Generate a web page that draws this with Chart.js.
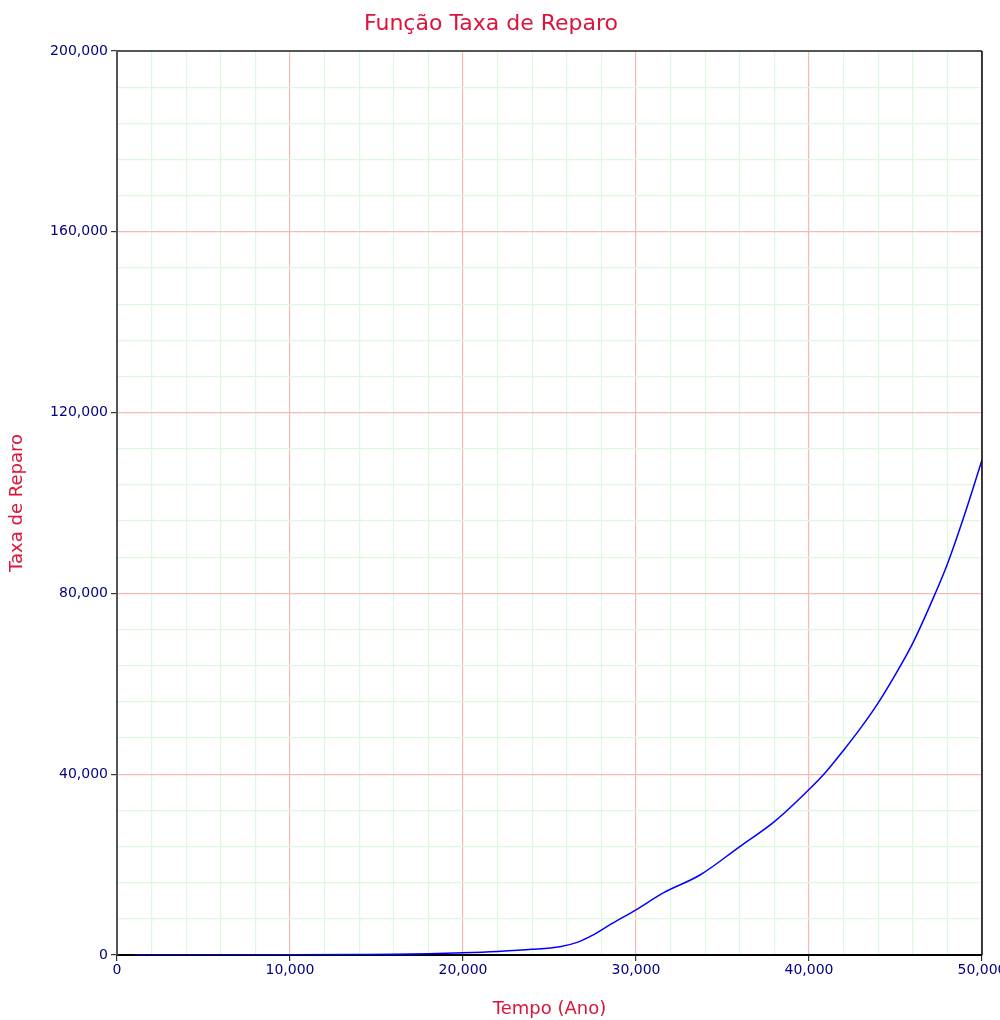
<!DOCTYPE html>
<html>
<head>
<meta charset="utf-8">
<script src="https://cdn.jsdelivr.net/npm/chart.js@4.4.1/dist/chart.umd.min.js"></script>
<style>
  html, body { margin: 0; padding: 0; background: #fff; }
  #wrap { width: 1000px; height: 1020px; position: relative; }
</style>
</head>
<body>
<div id="wrap"><canvas id="c" width="1000" height="1020"></canvas></div>
<script>
const chartTitle = 'Função Taxa de Reparo';
const xTitle = 'Tempo (Ano)';
const yTitle = 'Taxa de Reparo';

const tempo = [1000, 5000, 10000, 14000, 16000, 18000, 20000, 22000, 24000, 25600, 26600, 27500, 28500, 30000, 31600, 33700, 36000, 38000, 40000, 41000, 42000, 43000, 44000, 45000, 46000, 47300, 48000, 49000, 50000];
const taxa  = [0, 10, 40, 100, 150, 300, 500, 800, 1250, 1850, 2800, 4400, 6700, 10000, 13800, 17700, 24000, 29500, 36600, 40600, 45300, 50300, 55800, 62100, 69000, 80000, 86500, 97500, 109500];

const xMin = 0, xMax = 50000, xMajor = 10000, xMinor = 2000;
const yMin = 0, yMax = 200000, yMajor = 40000, yMinor = 8000;

const points = tempo.map((t, i) => ({ x: t, y: taxa[i] }));

const fmt = v => v.toLocaleString('en-US');
const isMajor = (v, step) => Math.abs(v / step - Math.round(v / step)) < 1e-6;

const frame = {
  id: 'frame',
  afterDatasetsDraw(chart) {
    const { ctx, chartArea: a } = chart;
    ctx.save();
    ctx.lineWidth = 2;
    ctx.strokeStyle = '#555555';
    ctx.beginPath();
    ctx.moveTo(a.left, a.top);
    ctx.lineTo(a.right, a.top);
    ctx.stroke();
    ctx.strokeStyle = '#000000';
    ctx.lineWidth = 1.5;
    ctx.beginPath();
    ctx.moveTo(a.right, a.top);
    ctx.lineTo(a.right, a.bottom);
    ctx.stroke();
    ctx.restore();
  }
};

new Chart(document.getElementById('c'), {
  type: 'line',
  data: {
    datasets: [{
      data: points,
      borderColor: '#0000FF',
      borderWidth: 1.5,
      pointRadius: 0,
      cubicInterpolationMode: 'monotone',
      fill: false
    }]
  },
  options: {
    responsive: false,
    animation: false,
    layout: { padding: { left: 0, right: 18, top: 0, bottom: 0 } },
    plugins: {
      legend: { display: false },
      tooltip: { enabled: false },
      title: {
        display: true,
        text: chartTitle,
        color: '#DC143C',
        font: { family: 'DejaVu Sans', size: 22, weight: 'normal' },
        padding: { top: 11, bottom: 13.6 }
      }
    },
    scales: {
      x: {
        type: 'linear',
        min: xMin, max: xMax,
        afterFit(s) { s.height = 65; s.paddingLeft = 0; s.paddingRight = 0; },
        afterBuildTicks(s) {
          const t = [];
          for (let v = xMin; v <= xMax; v += xMinor) t.push({ value: v });
          s.ticks = t;
        },
        ticks: {
          autoSkip: false, maxRotation: 0, minRotation: 0,
          color: '#000080',
          padding: 1,
          font: { family: 'DejaVu Sans', size: 14 },
          callback: v => isMajor(v, xMajor) ? fmt(v) : ''
        },
        grid: {
          color: c => isMajor(c.tick.value, xMajor) ? '#F7B9B3' : '#DDF9DD',
          lineWidth: 1.2,
          tickLength: 6,
          tickColor: c => isMajor(c.tick.value, xMajor) ? '#333333' : 'rgba(0,0,0,0)',
          drawTicks: true
        },
        border: { color: '#000000', width: 2 },
        title: {
          display: true, text: xTitle, color: '#DC143C',
          font: { family: 'DejaVu Sans', size: 18, weight: 'normal' },
          padding: { top: 0, bottom: 0 }
        }
      },
      y: {
        type: 'linear',
        min: yMin, max: yMax,
        afterFit(s) { s.width = 117; },
        afterBuildTicks(s) {
          const t = [];
          for (let v = yMin; v <= yMax; v += yMinor) t.push({ value: v });
          s.ticks = t;
        },
        ticks: {
          autoSkip: false,
          color: '#000080',
          padding: 3,
          font: { family: 'DejaVu Sans', size: 14 },
          callback: v => isMajor(v, yMajor) ? fmt(v) : ''
        },
        grid: {
          color: c => isMajor(c.tick.value, yMajor) ? '#F7B9B3' : '#DDF9DD',
          lineWidth: 1.2,
          tickLength: 6,
          tickColor: c => isMajor(c.tick.value, yMajor) ? '#333333' : 'rgba(0,0,0,0)'
        },
        border: { color: '#555555', width: 2 },
        title: {
          display: true, text: yTitle, color: '#DC143C',
          font: { family: 'DejaVu Sans', size: 18, weight: 'normal' },
          padding: { top: 7, bottom: 7 }
        }
      }
    }
  },
  plugins: [frame]
});
</script>
</body>
</html>
